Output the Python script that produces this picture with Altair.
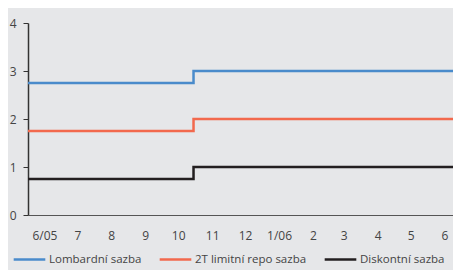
import altair as alt
import pandas as pd

# Data
dates = ["2005-06-01", "2005-10-30", "2006-07-01"]
lombard = [2.75, 3.00, 3.00]
repo = [1.75, 2.00, 2.00]
discount = [0.75, 1.00, 1.00]
series = ["Lombardní sazba", "2T limitní repo sazba", "Diskontní sazba"]
colors = ["#4a8bcb", "#f2694d", "#231f20"]
month_labels = ["6/05", "7", "8", "9", "10", "11", "12", "1/06", "2", "3", "4", "5", "6"]
tick_months = [(2005, m) for m in range(6, 13)] + [(2006, m) for m in range(1, 7)]

rows = []
for name, vals in zip(series, [lombard, repo, discount]):
    for d, v in zip(dates, vals):
        rows.append({"date": d, "value": v, "series": name})
df = pd.DataFrame(rows)

FONT = "Open Sans"
label_array = "[" + ",".join("'" + s + "'" for s in month_labels) + "]"
label_expr = label_array + "[(utcyear(datum.value)-2005)*12+utcmonth(datum.value)-5]"

chart = alt.Chart(df).mark_line(interpolate="step-after", strokeWidth=2.5).encode(
    x=alt.X(
        "date:T",
        scale=alt.Scale(
            type="utc",
            domain=[alt.DateTime(year=2005, month=6, date=1, utc=True),
                    alt.DateTime(year=2006, month=7, date=1, utc=True)],
            range=[0, 433],
        ),
        axis=alt.Axis(
            title=None,
            values=[alt.DateTime(year=y, month=m, date=16, utc=True) for y, m in tick_months],
            labelExpr=label_expr,
            ticks=False,
            grid=False,
            domainColor="#555555",
            domainWidth=1,
            labelPadding=15,
            labelFont=FONT,
            labelFontSize=12,
            labelColor="#444444",
        ),
    ),
    y=alt.Y(
        "value:Q",
        scale=alt.Scale(domain=[0, 4]),
        axis=alt.Axis(
            title=None,
            values=[0, 1, 2, 3, 4],
            format="d",
            grid=False,
            tickSize=5,
            tickColor="#333333",
            domainColor="#333333",
            domainWidth=1.5,
            labelPadding=7,
            labelFont=FONT,
            labelFontSize=12,
            labelColor="#444444",
        ),
    ),
    color=alt.Color(
        "series:N",
        scale=alt.Scale(domain=series, range=colors),
        legend=alt.Legend(
            title=None,
            orient="none",
            direction="horizontal",
            legendX=-16,
            legendY=219,
            padding=0,
            symbolType="stroke",
            symbolSize=1000,
            symbolStrokeWidth=2.5,
            labelOffset=2,
            columnPadding=12,
            labelFont=FONT,
            labelFontSize=11.5,
            labelColor="#444444",
        ),
    ),
).properties(
    width=425,
    height=192,
    background="#e6e7e9",
    padding={"left": 20, "top": 15, "right": 0, "bottom": 55},
    autosize=alt.AutoSizeParams(type="none"),
).configure_view(stroke=None)

chart.save("out.html", embed_options={"renderer": "svg", "actions": False})
